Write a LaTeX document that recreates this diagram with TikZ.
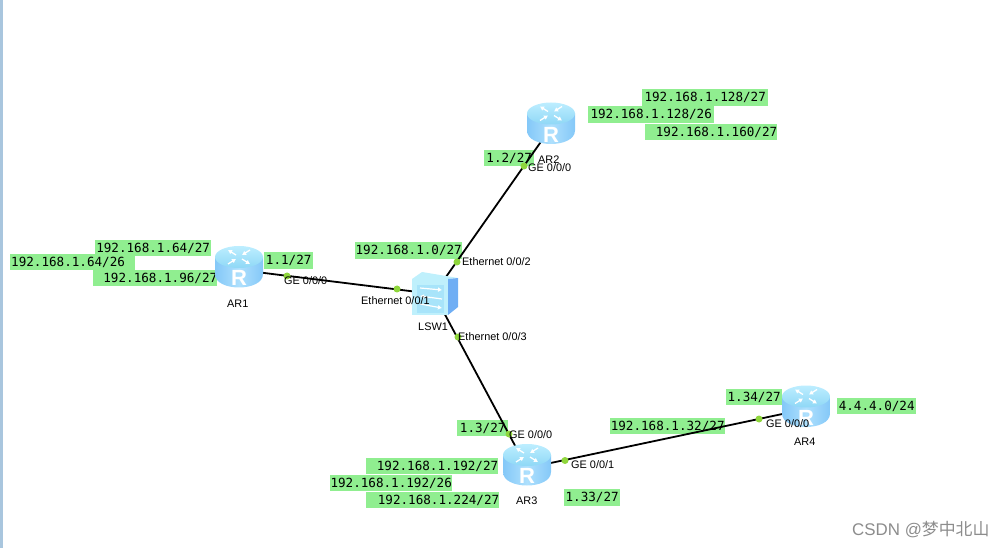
\documentclass[tikz,border=0pt]{standalone}
\usepackage{fontspec}
\setmainfont{Liberation Sans}
\newfontfamily\netfont{DejaVu Sans Mono}
\newfontfamily\cjkfont{Noto Sans CJK SC}
\usetikzlibrary{positioning,arrows.meta,calc}
\definecolor{netgreen}{HTML}{90EE90}
\definecolor{dotgreen}{HTML}{8FD63C}
\definecolor{bodyside}{HTML}{84C8F8}
\definecolor{bodymid}{HTML}{AEE0FD}
\definecolor{topfront}{HTML}{8FD8F6}
\definecolor{topback}{HTML}{BDEEFF}
\definecolor{swface}{HTML}{BFF0FC}
\definecolor{swinset}{HTML}{A8E4FA}
\definecolor{swside}{HTML}{6FAEF4}
\definecolor{strip}{HTML}{A9C6DE}

\begin{document}
\begin{tikzpicture}[
  x=1pt, y=-1pt,
  net/.style={fill=netgreen, font=\netfont\fontsize{12.6}{14}\selectfont, inner xsep=0pt, inner ysep=0pt, minimum height=16.5pt, anchor=west},
  lbl/.style={font=\fontsize{10.9}{12}\selectfont, inner sep=0pt, anchor=west},
  dev/.style={inner sep=0pt, minimum size=44pt},
  dot/.style={circle, fill=dotgreen, inner sep=0pt, minimum size=7pt},
  lnk/.style={line width=1.8pt},
  ticon/.style={white, line width=1.3pt, -{Latex[length=4pt,width=5pt]}},
  sicon/.style={white, line width=1.2pt, -{Latex[length=4pt,width=5pt]}},
  routericon/.pic={
    \shade[left color=bodyside, right color=bodyside, middle color=bodymid]
      (-24,-10) -- (-24,7) .. controls (-24,25) and (24,25) .. (24,7) -- (24,-10) -- cycle;
    \shade[top color=topback, bottom color=topfront] (0,-10) ellipse [x radius=24, y radius=11];
    \node[white, font=\bfseries\fontsize{22}{22}\selectfont] at (0,11) {R};
    \draw[ticon] (-3,-12) -- (-11,-17);
    \draw[ticon] (3,-8) -- (11,-3);
    \draw[ticon] (11,-17) -- (3,-12);
    \draw[ticon] (-11,-3) -- (-3,-8);
  },
  switchicon/.pic={
    \fill[swface] (-23,-16) -- (-13,-23) -- (23,-17) -- (13,-16) -- cycle;
    \fill[swface] (-23,-16) rectangle (13,20);
    \fill[swinset] (-18,-10) rectangle (9,18);
    \fill[swside] (13,-16) -- (23,-17) -- (23,12) -- (13,20) -- cycle;
    \draw[sicon] (-15,-7) -- (7,-5);
    \draw[sicon] (7,4) -- (-15,1);
    \draw[sicon] (-15,9) -- (7,13);
  }
]
\useasboundingbox (0,0) rectangle (1002,548);
\fill[strip] (0,0) rectangle (3,548);

% address boxes
\node[net, text width=116pt, align=center] (n64a) at (95,248) {192.168.1.64/27};
\node[net, text width=125pt, align=left] (n64b) at (10,262) {\hspace*{1pt}192.168.1.64/26};
\node[net, text width=124pt, align=right] (n96) at (93,278) {192.168.1.96/27};
\node[net, text width=49pt, align=center] (n11) at (264,260.5) {1.1/27};
\node[net, text width=107pt, align=center] (n10) at (355,250.5) {192.168.1.0/27};
\node[net, text width=126pt, align=center] (n128a) at (642,97.5) {192.168.1.128/27};
\node[net, text width=126pt, align=center] (n128b) at (588,114.5) {192.168.1.128/26};
\node[net, text width=132pt, align=right] (n160) at (645,132) {192.168.1.160/27};
\node[net, text width=50pt, align=center] (n12) at (484,158) {1.2/27};
\node[net, text width=51pt, align=center] (n13) at (457,428) {1.3/27};
\node[net, text width=132pt, align=right] (n192a) at (366,466) {192.168.1.192/27};
\node[net, text width=122pt, align=center] (n192b) at (330,483) {192.168.1.192/26};
\node[net, text width=133pt, align=right] (n224) at (366,500) {192.168.1.224/27};
\node[net, text width=56pt, align=center] (n133) at (564,497.5) {1.33/27};
\node[net, text width=115pt, align=center] (n32) at (610,426) {192.168.1.32/27};
\node[net, text width=56pt, align=center] (n134) at (726,397) {1.34/27};
\node[net, text width=79pt, align=center] (n44) at (837,406) {4.4.4.0/24};

\node[dev] (ar1) at (240,270) {};
\node[dev] (ar2) at (552,126) {};
\node[dev] (ar3) at (527,468) {};
\node[dev] (ar4) at (806,409) {};
\node[dev] (lsw1) at (434,294) {};

\draw[lnk] (ar1.center) -- (lsw1.center);
\draw[lnk] (lsw1.center) -- (ar2.center);
\draw[lnk] (lsw1.center) -- (ar3.center);
\draw[lnk] (ar3.center) -- (ar4.center);

\node[dot] (d1) at (287,276) {};
\node[dot] (d2) at (397,289) {};
\node[dot] (d3) at (457,262) {};
\node[dot] (d4) at (524,166) {};
\node[dot] (d5) at (458,337) {};
\node[dot] (d6) at (509,434) {};
\node[dot] (d7) at (565,460.5) {};
\node[dot] (d8) at (759,419) {};

\pic[xshift=-1pt, yshift=3pt] at (ar1) {routericon};
\pic[xshift=-1pt, yshift=2.5pt] at (ar2) {routericon};
\pic[yshift=3pt] at (ar3) {routericon};
\pic[yshift=2.5pt] at (ar4) {routericon};
\pic[xshift=1pt, yshift=-1pt] at (lsw1) {switchicon};

\node[lbl] (t1) at (227,304) {AR1};
\node[lbl] (t2) at (538,160) {AR2};
\node[lbl] (t3) at (516,501) {AR3};
\node[lbl] (t4) at (794,442) {AR4};
\node[lbl] (t5) at (418,327) {LSW1};
\node[lbl] (p1) at (284,281) {GE 0/0/0};
\node[lbl] (p2) at (361,301) {Ethernet 0/0/1};
\node[lbl] (p3) at (462,262) {Ethernet 0/0/2};
\node[lbl] (p4) at (458,337) {Ethernet 0/0/3};
\node[lbl] (p5) at (528,168) {GE 0/0/0};
\node[lbl] (p6) at (509,435) {GE 0/0/0};
\node[lbl] (p7) at (571,465) {GE 0/0/1};
\node[lbl] (p8) at (766,424) {GE 0/0/0};

\node[lbl, text=black!45, font=\fontsize{16.9}{19}\selectfont] (mark) at (852,530) {CSDN @{\cjkfont 梦中北山}};
\end{tikzpicture}
\end{document}
